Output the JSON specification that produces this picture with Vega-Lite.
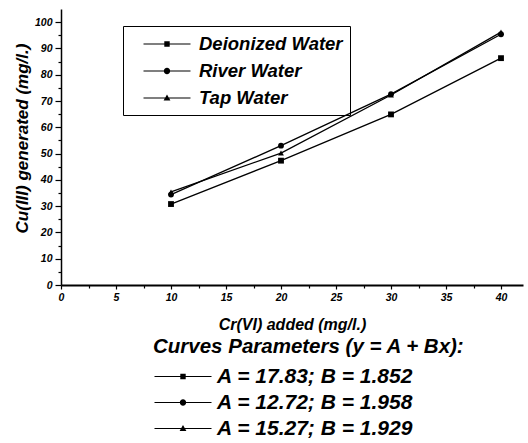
{
  "$schema": "https://vega.github.io/schema/vega-lite/v6.json",
  "width": 462,
  "height": 276,
  "autosize": {"type": "none"},
  "padding": {"left": 61, "top": 9, "right": 5, "bottom": 158},
  "background": "white",
  "config": {
    "font": "Liberation Sans",
    "view": {"stroke": null},
    "axis": {
      "grid": false,
      "domainColor": "black",
      "tickColor": "black",
      "tickWidth": 1.2,
      "labelFont": "Liberation Sans",
      "labelFontSize": 10.5,
      "labelFontWeight": "bold",
      "labelFontStyle": "italic",
      "labelColor": "black",
      "labelOverlap": false,
      "labelFlush": false,
      "titleFont": "Liberation Sans",
      "titleFontSize": 16,
      "titleFontWeight": "bold",
      "titleFontStyle": "italic",
      "titleColor": "black"
    }
  },
  "data": {
    "values": [
      {"x": 10, "y": 30.8, "series": "Deionized Water", "params": "A = 17.83; B = 1.852"},
      {"x": 20, "y": 47.3, "series": "Deionized Water", "params": "A = 17.83; B = 1.852"},
      {"x": 30, "y": 64.9, "series": "Deionized Water", "params": "A = 17.83; B = 1.852"},
      {"x": 40, "y": 86.3, "series": "Deionized Water", "params": "A = 17.83; B = 1.852"},
      {"x": 10, "y": 34.4, "series": "River Water", "params": "A = 12.72; B = 1.958"},
      {"x": 20, "y": 53.0, "series": "River Water", "params": "A = 12.72; B = 1.958"},
      {"x": 30, "y": 72.6, "series": "River Water", "params": "A = 12.72; B = 1.958"},
      {"x": 40, "y": 95.4, "series": "River Water", "params": "A = 12.72; B = 1.958"},
      {"x": 10, "y": 35.4, "series": "Tap Water", "params": "A = 15.27; B = 1.929"},
      {"x": 20, "y": 50.2, "series": "Tap Water", "params": "A = 15.27; B = 1.929"},
      {"x": 30, "y": 72.3, "series": "Tap Water", "params": "A = 15.27; B = 1.929"},
      {"x": 40, "y": 96.2, "series": "Tap Water", "params": "A = 15.27; B = 1.929"}
    ]
  },
  "encoding": {
    "x": {
      "field": "x", "type": "quantitative",
      "scale": {"domain": [0, 42], "nice": false, "zero": false},
      "axis": {
        "title": "Cr(VI) added (mg/l.)",
        "values": [0, 2.5, 5, 7.5, 10, 12.5, 15, 17.5, 20, 22.5, 25, 27.5, 30, 32.5, 35, 37.5, 40],
        "labelExpr": "datum.value % 5 == 0 ? datum.label : ''",
        "tickSize": {"condition": {"test": "datum.value % 5 == 0", "value": 4}, "value": 3},
        "domainWidth": 2,
        "labelPadding": 3,
        "titlePadding": 14
      }
    },
    "y": {
      "field": "y", "type": "quantitative",
      "scale": {"domain": [0, 105], "nice": false},
      "axis": {
        "title": "Cu(III) generated (mg/l.)",
        "values": [0, 5, 10, 15, 20, 25, 30, 35, 40, 45, 50, 55, 60, 65, 70, 75, 80, 85, 90, 95, 100],
        "labelExpr": "datum.value % 10 == 0 ? datum.label : ''",
        "tickSize": {"condition": {"test": "datum.value % 10 == 0", "value": 6}, "value": 3},
        "domainWidth": 1.5,
        "labelPadding": 3,
        "titleFontSize": 17,
        "titlePadding": 3,
        "titleY": 129
      }
    }
  },
  "layer": [
    {
      "mark": {"type": "line", "color": "black", "strokeWidth": 1.3},
      "encoding": {"detail": {"field": "series"}}
    },
    {
      "mark": {"type": "point", "filled": true, "color": "black", "opacity": 1, "size": 34},
      "encoding": {
        "shape": {
          "field": "series", "type": "nominal",
          "scale": {"domain": ["Deionized Water", "River Water", "Tap Water"], "range": ["square", "circle", "triangle-up"]},
          "legend": null
        }
      }
    },
    {
      "mark": {"type": "point", "filled": true, "color": "black", "size": 0},
      "encoding": {
        "shape": {
          "field": "series", "type": "nominal",
          "scale": {
            "domain": ["Deionized Water", "River Water", "Tap Water"],
            "range": [
              "M-2.35,-0.05L2.35,-0.05L2.35,0.05L-2.35,0.05ZM-0.27,-0.27L0.27,-0.27L0.27,0.27L-0.27,0.27Z",
              "M-2.35,-0.05L2.35,-0.05L2.35,0.05L-2.35,0.05ZM0.32,0A0.32,0.32 0 1,1 -0.32,0A0.32,0.32 0 1,1 0.32,0Z",
              "M-2.35,-0.05L2.35,-0.05L2.35,0.05L-2.35,0.05ZM0,-0.34L0.34,0.26L-0.34,0.26Z"
            ]
          },
          "legend": {
            "orient": "none",
            "legendX": 62,
            "legendY": 17,
            "title": null,
            "padding": 7,
            "labelFont": "Liberation Sans",
            "labelFontSize": 18.5,
            "labelFontWeight": "bold",
            "labelFontStyle": "italic",
            "labelColor": "black",
            "labelLimit": 400,
            "symbolSize": 400,
            "symbolOffset": 26,
            "labelOffset": 21,
            "rowPadding": 6,
            "symbolFillColor": "black",
            "symbolOpacity": 1,
            "strokeColor": "black"
          }
        }
      }
    },
    {
      "mark": {"type": "point", "filled": true, "color": "black", "size": 0},
      "encoding": {
        "shape": {
          "field": "params", "type": "nominal",
          "scale": {
            "domain": ["A = 17.83; B = 1.852", "A = 12.72; B = 1.958", "A = 15.27; B = 1.929"],
            "range": [
              "M-2.85,-0.05L2.85,-0.05L2.85,0.05L-2.85,0.05ZM-0.27,-0.27L0.27,-0.27L0.27,0.27L-0.27,0.27Z",
              "M-2.85,-0.05L2.85,-0.05L2.85,0.05L-2.85,0.05ZM0.32,0A0.32,0.32 0 1,1 -0.32,0A0.32,0.32 0 1,1 0.32,0Z",
              "M-2.85,-0.05L2.85,-0.05L2.85,0.05L-2.85,0.05ZM0,-0.34L0.34,0.26L-0.34,0.26Z"
            ]
          },
          "legend": {
            "orient": "none",
            "legendX": 92,
            "legendY": 328,
            "padding": 0,
            "title": "Curves Parameters (y = A + Bx):",
            "titleFont": "Liberation Sans",
            "titleFontSize": 20.5,
            "titleFontWeight": "bold",
            "titleFontStyle": "italic",
            "titleColor": "black",
            "titleLimit": 500,
            "titlePadding": 8,
            "labelFont": "Liberation Sans",
            "labelFontSize": 21,
            "labelFontWeight": "bold",
            "labelFontStyle": "italic",
            "labelColor": "black",
            "labelLimit": 400,
            "symbolSize": 400,
            "symbolOffset": 19,
            "labelOffset": 23,
            "rowPadding": 5,
            "symbolFillColor": "black",
            "symbolOpacity": 1
          }
        }
      }
    }
  ],
  "resolve": {"scale": {"shape": "independent"}}
}
